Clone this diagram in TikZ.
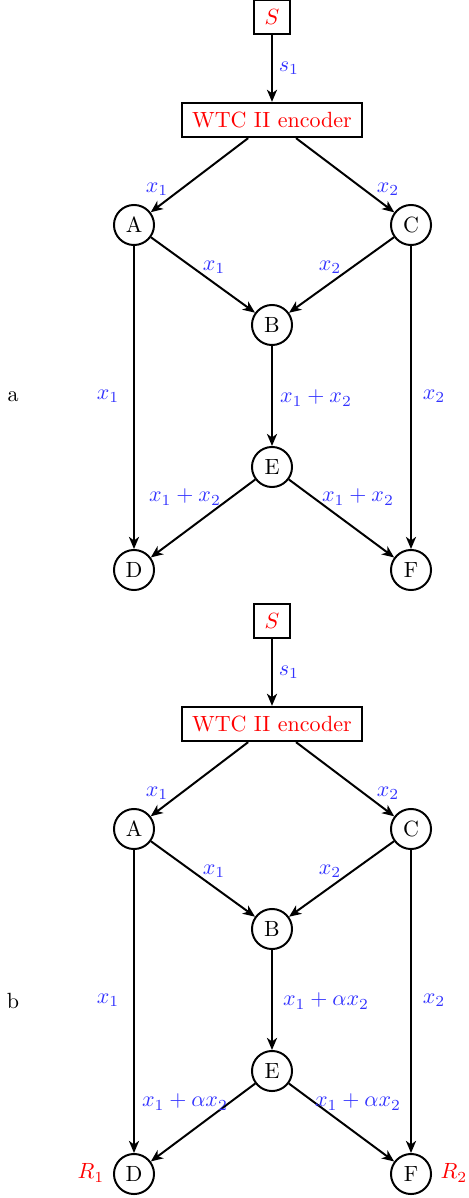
\documentclass[tikz,border=0pt]{standalone}
\usetikzlibrary{arrows.meta}
\definecolor{lblue}{RGB}{51,51,255}
\begin{document}
\begin{tikzpicture}[x=0.4545pt,y=-0.4545pt,
  nd/.style={circle,draw,line width=0.9pt,minimum size=18.2pt,inner sep=0pt},
  bx/.style={draw,line width=0.9pt,text=red,inner sep=0pt,minimum height=15.6pt},
  lbl/.style={text=lblue,inner sep=0pt},
  rl/.style={text=red,inner sep=0pt},
  cn/.style={line width=0.9pt,-{Stealth[length=5.5pt,width=4.6pt,inset=1.6pt]}},
  ]
\useasboundingbox (0,0) rectangle (469,1198);
% ---------- diagram a ----------
\node[bx,minimum width=16pt] (aS) at (272,17) {$S$};
\node[bx,minimum width=82pt] (aenc) at (272,120) {WTC II encoder};
\node[nd] (aA) at (134,225) {A};
\node[nd] (aC) at (411,225) {C};
\node[nd] (aB) at (272,325) {B};
\node[nd] (aE) at (272,467) {E};
\node[nd] (aD) at (134,570) {D};
\node[nd] (aF) at (411,570) {F};
\draw[cn] (aS) -- (aenc);
\draw[cn] (aenc) -- (aA);
\draw[cn] (aenc) -- (aC);
\draw[cn] (aA) -- (aB);
\draw[cn] (aC) -- (aB);
\draw[cn] (aA) -- (aD);
\draw[cn] (aC) -- (aF);
\draw[cn] (aB) -- (aE);
\draw[cn] (aE) -- (aD);
\draw[cn] (aE) -- (aF);
\node[lbl] (as1) at (289,68) {$s_1$};
\node[lbl] (al1) at (157,189) {$x_1$};
\node[lbl] (al2) at (388,189) {$x_2$};
\node[lbl] (al3) at (214,267) {$x_1$};
\node[lbl] (al4) at (330,267) {$x_2$};
\node[lbl] (al5) at (108,396) {$x_1$};
\node[lbl] (al6) at (434,396) {$x_2$};
\node[lbl] (al7) at (316,398) {$x_1+x_2$};
\node[lbl] (al8) at (185,497) {$x_1+x_2$};
\node[lbl] (al9) at (358,497) {$x_1+x_2$};
\node (alet) at (13,397) {a};
% ---------- diagram b ----------
\node[bx,minimum width=16pt] (bS) at (272,621) {$S$};
\node[bx,minimum width=82pt] (benc) at (272,724) {WTC II encoder};
\node[nd] (bA) at (134,829) {A};
\node[nd] (bC) at (411,829) {C};
\node[nd] (bB) at (272,929) {B};
\node[nd] (bE) at (272,1071) {E};
\node[nd] (bD) at (134,1174) {D};
\node[nd] (bF) at (411,1174) {F};
\draw[cn] (bS) -- (benc);
\draw[cn] (benc) -- (bA);
\draw[cn] (benc) -- (bC);
\draw[cn] (bA) -- (bB);
\draw[cn] (bC) -- (bB);
\draw[cn] (bA) -- (bD);
\draw[cn] (bC) -- (bF);
\draw[cn] (bB) -- (bE);
\draw[cn] (bE) -- (bD);
\draw[cn] (bE) -- (bF);
\node[lbl] (bs1) at (289,672) {$s_1$};
\node[lbl] (bl1) at (157,793) {$x_1$};
\node[lbl] (bl2) at (388,793) {$x_2$};
\node[lbl] (bl3) at (214,871) {$x_1$};
\node[lbl] (bl4) at (330,871) {$x_2$};
\node[lbl] (bl5) at (108,1000) {$x_1$};
\node[lbl] (bl6) at (434,1000) {$x_2$};
\node[lbl] (bl7) at (326,1001) {$x_1+\alpha x_2$};
\node[lbl] (bl8) at (185,1102) {$x_1+\alpha x_2$};
\node[lbl] (bl9) at (358,1102) {$x_1+\alpha x_2$};
\node[rl] (bR1) at (91,1173) {$R_1$};
\node[rl] (bR2) at (454,1173) {$R_2$};
\node (blet) at (13,1001) {b};
\end{tikzpicture}
\end{document}
